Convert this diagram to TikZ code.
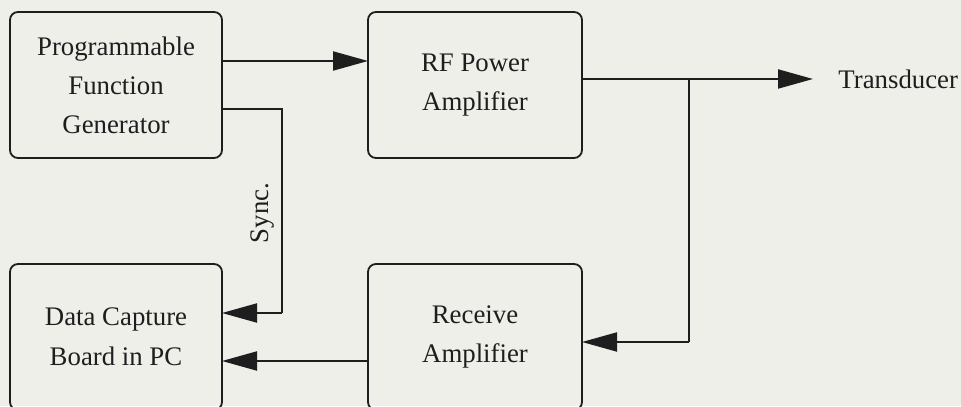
\documentclass[tikz,border=0pt]{standalone}
\usepackage{fontspec}
\setmainfont{Liberation Serif}
\usetikzlibrary{arrows.meta,calc}
\definecolor{paper}{RGB}{238,239,233}
\definecolor{ink}{RGB}{30,30,30}

\begin{document}
\begin{tikzpicture}[x=0.5pt,y=0.5pt]
  \tikzset{BoxStyle/.style = {
    shape          = rectangle,
    draw           = ink,
    rounded corners = 4pt,
    line width     = 0.9pt,
    text           = ink,
    align          = center,
    font           = \fontsize{13.4}{19.5}\selectfont,
    inner sep      = 0pt,
    outer sep      = 0pt
    }
  }
  \tikzset{ArrowStyle/.style = {
    draw           = ink,
    line width     = 1pt,
    -{Triangle[length=17.5pt,width=9.5pt]}
    }
  }
  \tikzset{LineStyle/.style = {
    draw           = ink,
    line width     = 1pt
    }
  }
  \tikzset{TextStyle/.style = {
    text           = ink,
    font           = \fontsize{13.4}{19.5}\selectfont,
    inner sep      = 0pt
    }
  }

  \fill[paper] (0,0) rectangle (961,406);
  \useasboundingbox (0,0) rectangle (961,406);

  \node[BoxStyle, minimum width=106pt, minimum height=73pt](PFG) at (116, 321)
    {Programmable\\Function\\Generator};
  \node[BoxStyle, minimum width=107pt, minimum height=73pt](RF) at (475, 321)
    {RF Power\\Amplifier};
  \node[BoxStyle, minimum width=106pt, minimum height=73pt,
        font=\fontsize{13.4}{20}\selectfont](DC) at (116, 69)
    {Data Capture\\Board in PC};
  \node[BoxStyle, minimum width=107pt, minimum height=73pt](RA) at (475, 69)
    {Receive\\Amplifier};
  \node[TextStyle, anchor=west](Trans) at (838, 327) {Transducer};
  \node[TextStyle, rotate=90](Sync) at (263, 193) {Sync.};

  \coordinate (SyncTop) at (282, 297);
  \coordinate (SyncBot) at (282, 93);
  \coordinate (Split) at (689, 327);
  \coordinate (SplitBot) at (689, 64);

  \draw[ArrowStyle] ($(PFG.east)+(0,24)$) -- ($(RF.west)+(0,24)$);
  \draw[LineStyle] ($(PFG.east)+(0,-24)$) -- (SyncTop) -- (SyncBot);
  \draw[ArrowStyle] (SyncBot) -- (DC.east |- SyncBot);
  \draw[ArrowStyle, shorten >=12.5pt] ($(RF.east)+(0,6)$) -- (Trans.west);
  \draw[LineStyle] (Split) -- (SplitBot);
  \draw[ArrowStyle] (SplitBot) -- (RA.east |- SplitBot);
  \draw[ArrowStyle] ($(RA.west)+(0,-24)$) -- ($(DC.east)+(0,-24)$);

\end{tikzpicture}
\end{document}
